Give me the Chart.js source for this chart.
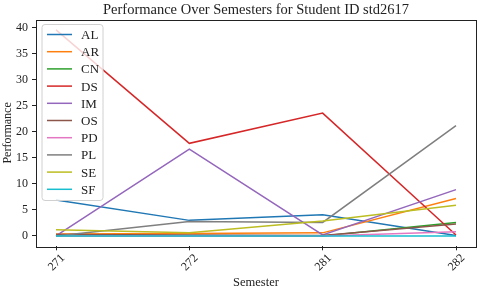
<!DOCTYPE html>
<html>
<head>
<meta charset="utf-8">
<script src="https://cdn.jsdelivr.net/npm/chart.js@4/dist/chart.umd.min.js"></script>
<style>
  html, body { margin: 0; padding: 0; background: #fff; }
  #wrap { width: 480px; height: 292px; }
</style>
</head>
<body>
<div id="wrap"><canvas id="perfChart" width="480" height="292"></canvas></div>
<script>
// semesters on the x axis
const semesters = ['271', '272', '281', '282'];
const yTicks = [0, 5, 10, 15, 20, 25, 30, 35, 40];

// performance per subject, one value per semester
const AL = [6.9, 3.0, 4.1, 0.1];
const AR = [0.4, 0.5, 0.6, 7.2];
const CN = [0.0, 0.0, 0.0, 2.6];
const DS = [39.6, 17.8, 23.6, 0.2];
const IM = [0.0, 16.7, 0.2, 8.9];
const OS = [0.3, 0.2, 0.1, 2.3];
const PD = [0.0, 0.0, 0.0, 0.8];
const PL = [0.0, 2.8, 2.6, 21.2];
const SE = [1.2, 0.6, 2.9, 5.9];
const SF = [0.0, 0.0, 0.0, 0.0];

const subjects = ['AL', 'AR', 'CN', 'DS', 'IM', 'OS', 'PD', 'PL', 'SE', 'SF'];
const series = [AL, AR, CN, DS, IM, OS, PD, PL, SE, SF];
const colors = ['#1f77b4', '#ff7f0e', '#2ca02c', '#d62728', '#9467bd',
  '#8c564b', '#e377c2', '#7f7f7f', '#bcbd22', '#17becf'];

const serif = "'Liberation Serif', 'DejaVu Serif', serif";
const ink = '#222';

const datasets = series.map((vals, i) => ({
  label: subjects[i],
  data: vals.map((v, idx) => ({ x: idx, y: v })),
  borderColor: colors[i],
  backgroundColor: colors[i],
  borderWidth: 1.5,
  pointRadius: 0,
  tension: 0,
  fill: false,
  order: series.length - i, // later series on top, like matplotlib
}));

/* legend box drawn inside the plot, top-left */
const innerLegend = {
  id: 'innerLegend',
  afterDatasetsDraw(chart) {
    const { ctx, chartArea } = chart;
    const x0 = chartArea.left + 6;
    const y0 = chartArea.top + 5;
    const rowH = 17.2;
    const w = 61;
    const h = 176;

    ctx.save();
    ctx.beginPath();
    ctx.roundRect(x0, y0, w, h, 3);
    ctx.fillStyle = 'rgba(255,255,255,0.8)';
    ctx.fill();
    ctx.strokeStyle = '#d0d0d0';
    ctx.lineWidth = 1;
    ctx.stroke();

    ctx.font = '13px ' + serif;
    ctx.textBaseline = 'middle';
    chart.data.datasets.forEach((ds, i) => {
      const y = y0 + 10 + i * rowH;
      ctx.beginPath();
      ctx.moveTo(x0 + 5, y);
      ctx.lineTo(x0 + 30, y);
      ctx.strokeStyle = ds.borderColor;
      ctx.lineWidth = 1.5;
      ctx.stroke();
      ctx.fillStyle = ink;
      ctx.fillText(ds.label, x0 + 39, y + 1);
    });
    ctx.restore();
  },
};

/* full frame round the plot area */
const frame = {
  id: 'frame',
  afterDraw(chart) {
    const { ctx, chartArea: a } = chart;
    ctx.save();
    ctx.strokeStyle = ink;
    ctx.lineWidth = 1;
    ctx.strokeRect(Math.round(a.left) + 0.5, Math.round(a.top) + 0.5,
      Math.round(a.right - a.left), Math.round(a.bottom - a.top));
    ctx.restore();
  },
};

new Chart(document.getElementById('perfChart').getContext('2d'), {
  type: 'line',
  data: { datasets },
  options: {
    responsive: false,
    animation: false,
    devicePixelRatio: 1,
    layout: { padding: { left: 0, right: 4, top: 0, bottom: 0 } },
    plugins: {
      legend: { display: false },
      tooltip: { enabled: false },
      title: {
        display: true,
        text: 'Performance Over Semesters for Student ID std2617',
        fullSize: false,
        color: ink,
        font: { family: serif, size: 14.5, weight: 'normal', lineHeight: 1 },
        padding: { top: 3, bottom: 2 },
      },
    },
    scales: {
      x: {
        type: 'linear',
        min: -0.15,
        max: 3.15,
        afterBuildTicks(scale) {
          scale.ticks = semesters.map((s, i) => ({ value: i }));
        },
        afterFit(scale) {
          scale.height = 45.7;
        },
        ticks: {
          color: ink,
          font: { family: serif, size: 12 },
          maxRotation: 45,
          minRotation: 45,
          padding: 1,
          labelOffset: 7,
          callback: (v) => semesters[v],
        },
        grid: { drawOnChartArea: false, drawTicks: true, tickLength: 4, color: ink },
        border: { display: false },
        title: {
          display: true,
          text: 'Semester',
          color: ink,
          font: { family: serif, size: 12.5 },
          padding: { top: 0, bottom: 2 },
        },
      },
      y: {
        min: -1.98,
        max: 41.58,
        afterBuildTicks(scale) {
          scale.ticks = yTicks.map((v) => ({ value: v }));
        },
        afterFit(scale) {
          scale.width = 36;
        },
        ticks: {
          color: ink,
          font: { family: serif, size: 12 },
          padding: 4,
        },
        grid: { drawOnChartArea: false, drawTicks: true, tickLength: 4, color: ink },
        border: { display: false },
        title: {
          display: true,
          text: 'Performance',
          color: ink,
          font: { family: serif, size: 12 },
          padding: { top: 1, bottom: 0 },
        },
      },
    },
  },
  plugins: [innerLegend, frame],
});
</script>
</body>
</html>
